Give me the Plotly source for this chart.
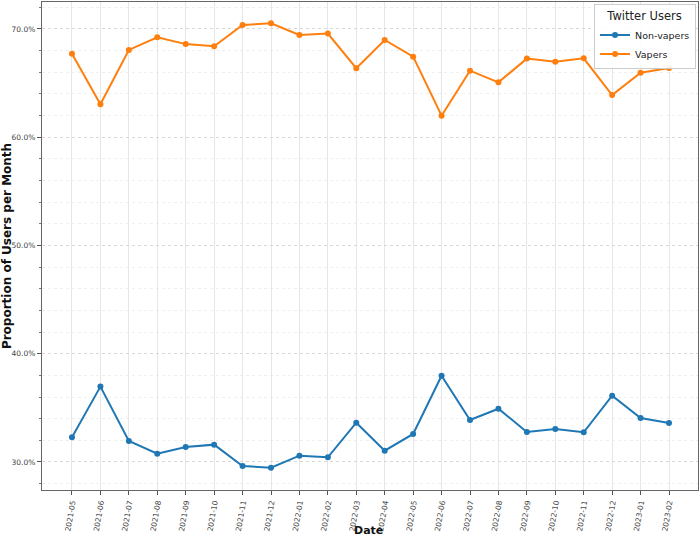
import plotly.graph_objects as go

months = ["2021-05", "2021-06", "2021-07", "2021-08", "2021-09", "2021-10", "2021-11",
          "2021-12", "2022-01", "2022-02", "2022-03", "2022-04", "2022-05", "2022-06",
          "2022-07", "2022-08", "2022-09", "2022-10", "2022-11", "2022-12", "2023-01",
          "2023-02"]
non_vapers = [0.3228, 0.3696, 0.3194, 0.3077, 0.3139, 0.3160, 0.2963, 0.2947, 0.3058,
              0.3043, 0.3363, 0.3104, 0.3259, 0.3797, 0.3388, 0.3492, 0.3277, 0.3305,
              0.3274, 0.3612, 0.3406, 0.3360]
vapers = [0.6772, 0.6305, 0.6806, 0.6923, 0.6860, 0.6840, 0.7037, 0.7053, 0.6945,
          0.6957, 0.6637, 0.6898, 0.6744, 0.6199, 0.6615, 0.6507, 0.6726, 0.6698,
          0.6729, 0.6390, 0.6596, 0.6640]

fig = go.Figure()
fig.add_trace(go.Scatter(x=months, y=non_vapers, mode="lines+markers", name="Non-vapers",
                         line=dict(color="#1f77b4", width=2), marker=dict(size=6)))
fig.add_trace(go.Scatter(x=months, y=vapers, mode="lines+markers", name="Vapers",
                         line=dict(color="#ff7f0e", width=2), marker=dict(size=6)))

fig.update_layout(
    width=700, height=538,
    margin=dict(l=42, r=2, t=2, b=48),
    paper_bgcolor="white", plot_bgcolor="white",
    font=dict(family="DejaVu Sans", color="#333"),
    showlegend=True,
    legend=dict(
        title=dict(text="Twitter Users", font=dict(size=11.5, color="#222"), side="top center"),
        x=0.997, y=0.995, xanchor="right", yanchor="top",
        bgcolor="rgba(255,255,255,0.9)", bordercolor="#cccccc", borderwidth=1,
        font=dict(size=9.5, color="#222"),
        itemwidth=30, tracegroupgap=0,
    ),
    annotations=[dict(text="<b>Date</b>", xref="paper", yref="paper", x=0.497, y=-0.0835,
                      xanchor="center", yanchor="middle", showarrow=False,
                      font=dict(size=11, color="#111"))],
)
fig.update_xaxes(
    type="category", range=[-1.055, 22.02], automargin=False,
    tickangle=-80, tickfont=dict(size=7.5, color="#444"),
    showgrid=True, gridcolor="#e6e6e6", gridwidth=1,
    ticks="outside", ticklen=4, tickcolor="#555",
    showline=True, linecolor="#666", linewidth=1.2, mirror=True,
    zeroline=False,
)
fig.update_yaxes(
    range=[0.2741, 0.7249], tickformat=".1%", dtick=0.1, tick0=0.3, automargin=False,
    tickfont=dict(size=7.5, color="#444"), ticklabelstandoff=0,
    showgrid=True, gridcolor="#d8d8d8", griddash="dot", gridwidth=1,
    ticks="outside", ticklen=4, tickcolor="#555",
    minor=dict(dtick=0.02, tick0=0.3, showgrid=True, gridcolor="#eeeeee",
               ticks="outside", ticklen=2, tickcolor="#777"),
    showline=True, linecolor="#666", linewidth=1.2, mirror=True,
    title=dict(text="<b>Proportion of Users per Month</b>", font=dict(size=12, color="#111"), standoff=8),
    zeroline=False,
)

fig.write_html("out.html")
